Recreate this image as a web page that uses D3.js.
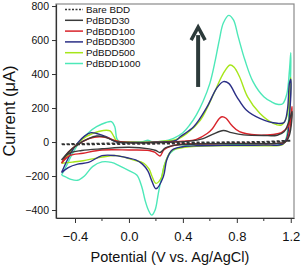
<!DOCTYPE html>
<html>
<head>
<meta charset="utf-8">
<script src="https://cdn.jsdelivr.net/npm/d3@7"></script>
<style>
  body { margin: 0; background: #fff; }
  svg { display: block; font-family: "Liberation Sans", Arial, sans-serif; }
</style>
</head>
<body>
<div id="chart"></div>
<script>
// cyclic voltammograms, [potential (V), current (uA)], forward scan then reverse scan
var bareBDD = [[-0.50, -12], [0.0, -6], [0.5, -2], [1.0, 2], [1.20, 9],
  [1.10, 0], [0.5, -8], [0.0, -12], [-0.50, -15]];

var pdBDD30 = [[-0.50, -106], [-0.45, -60], [-0.38, -15], [-0.30, 20], [-0.24, 35], [-0.18, 30],
  [-0.12, 10], [-0.08, 0], [0.2, -3], [0.45, 5], [0.55, 20], [0.62, 45], [0.70, 68], [0.76, 55],
  [0.85, 42], [1.0, 38], [1.1, 40], [1.15, 60], [1.19, 130], [1.21, 180],
  [1.19, 40], [1.16, 0], [1.1, -8], [0.8, -10], [0.5, -12], [0.35, -18], [0.27, -35], [0.23, -62],
  [0.20, -50], [0.15, -40], [0.0, -31], [-0.2, -40], [-0.35, -50], [-0.44, -65], [-0.50, -106]];

var pdBDD100 = [[-0.50, -125], [-0.45, -60], [-0.39, -20], [-0.29, 22], [-0.22, 31], [-0.16, 25],
  [-0.10, 8], [-0.05, 0], [0.2, -3], [0.4, 5], [0.50, 16], [0.58, 50], [0.62, 80], [0.67, 139],
  [0.69, 149], [0.72, 140], [0.76, 100], [0.82, 61], [0.95, 41], [1.07, 45], [1.13, 55], [1.18, 90], [1.21, 208],
  [1.19, 60], [1.16, 0], [1.1, -8], [0.8, -8], [0.6, -10], [0.4, -12], [0.31, -25], [0.26, -45],
  [0.23, -82], [0.19, -60], [0.15, -50], [0.0, -47], [-0.2, -47], [-0.34, -66], [-0.44, -80], [-0.50, -125]];

var pdBDD300 = [[-0.50, -180], [-0.46, -110], [-0.42, -50], [-0.38, -5], [-0.33, 35], [-0.28, 55],
  [-0.24, 50], [-0.17, 31], [-0.12, 10], [-0.09, 0], [0.0, -3], [0.2, 0], [0.35, 10], [0.38, 31],
  [0.48, 90], [0.58, 208], [0.65, 316], [0.70, 355], [0.74, 345], [0.80, 266], [0.87, 188],
  [0.97, 139], [1.10, 110], [1.15, 115], [1.175, 188], [1.19, 345], [1.20, 370],
  [1.19, 150], [1.17, 20], [1.14, -12], [1.0, -18], [0.7, -20], [0.5, -22], [0.40, -28], [0.32, -47],
  [0.28, -106], [0.255, -204], [0.20, -275], [0.17, -230], [0.14, -170], [0.10, -130], [0.05, -105],
  [0.0, -95], [-0.1, -80], [-0.2, -80], [-0.3, -120], [-0.38, -130], [-0.45, -150], [-0.50, -180]];

var pdBDD500 = [[-0.50, -125], [-0.45, -75], [-0.40, -25], [-0.34, 20], [-0.27, 50], [-0.19, 68],
  [-0.14, 65], [-0.11, 30], [-0.09, 5], [0.0, 0], [0.2, 2], [0.35, 15], [0.43, 51], [0.53, 129],
  [0.63, 286], [0.70, 404], [0.75, 453], [0.78, 440], [0.82, 384], [0.88, 266], [0.97, 169],
  [1.07, 110], [1.13, 100], [1.17, 149], [1.19, 286], [1.20, 380],
  [1.19, 150], [1.17, 20], [1.14, -15], [1.0, -22], [0.7, -22], [0.5, -25], [0.40, -33], [0.33, -45],
  [0.30, -66], [0.26, -145], [0.24, -210], [0.20, -243], [0.17, -200], [0.15, -160], [0.11, -125],
  [0.03, -105], [-0.09, -80], [-0.21, -90], [-0.34, -110], [-0.42, -118], [-0.50, -125]];

var pdBDD1000 = [[-0.50, -195], [-0.47, -150], [-0.42, -70], [-0.36, 5], [-0.30, 55], [-0.24, 90],
  [-0.17, 115], [-0.13, 120], [-0.105, 90], [-0.09, 20], [-0.07, 2], [0.0, 0], [0.10, 2], [0.14, 10],
  [0.17, 2], [0.25, 5], [0.33, 22], [0.40, 55], [0.45, 100], [0.50, 160], [0.55, 240], [0.60, 345],
  [0.64, 480], [0.67, 600], [0.70, 700], [0.74, 745], [0.775, 718], [0.81, 620], [0.86, 482],
  [0.92, 355], [1.00, 266], [1.06, 235], [1.10, 222], [1.14, 225], [1.17, 280], [1.19, 420], [1.20, 525],
  [1.195, 300], [1.18, 100], [1.16, 10], [1.12, -15], [1.0, -18], [0.8, -15], [0.58, -8], [0.45, -18],
  [0.355, -37], [0.305, -66], [0.267, -125], [0.243, -204], [0.218, -302], [0.194, -400], [0.169, -430],
  [0.144, -400], [0.119, -341], [0.095, -263], [0.058, -194], [0.0, -168], [-0.07, -140], [-0.13, -120],
  [-0.2, -117], [-0.27, -145], [-0.33, -200], [-0.38, -225], [-0.43, -220], [-0.47, -205], [-0.50, -195]];

var seriesNames = ["Bare BDD", "PdBDD30", "PdBDD100", "PdBDD300", "PdBDD500", "PdBDD1000"];
var seriesData = [bareBDD, pdBDD30, pdBDD100, pdBDD300, pdBDD500, pdBDD1000];
var seriesColors = ["#333333", "#3a3a3a", "#d8232a", "#2b2f86", "#a6e61a", "#4de8b8"];

var xTicks = [-0.4, 0.0, 0.4, 0.8, 1.2];
var xMinorTicks = [-0.2, 0.2, 0.6, 1.0];
var yTicks = [-400, -200, 0, 200, 400, 600, 800];

// arrow annotation [potential, current] bottom -> tip
var arrowFrom = [0.513, 324];
var arrowTo = [0.513, 676];

var svgWidth = 301;
var svgHeight = 270;
var margin = { top: 4, right: 7, bottom: 52, left: 56 };
var width = svgWidth - margin.left - margin.right;
var height = svgHeight - margin.top - margin.bottom;

var svg = d3.select("#chart").append("svg")
  .attr("width", svgWidth)
  .attr("height", svgHeight);

var g = svg.append("g")
  .attr("transform", `translate(${margin.left}, ${margin.top})`);

var x = d3.scaleLinear().domain([-0.541, 1.224]).range([0, width]);
var y = d3.scaleLinear().domain([-447, 812]).range([height, 0]);

// frame
g.append("rect")
  .attr("width", width)
  .attr("height", height)
  .attr("fill", "none")
  .attr("stroke", "#8a8a8a")
  .attr("stroke-width", 1.2);

var line = d3.line()
  .x(d => x(d[0]))
  .y(d => y(d[1]))
  .curve(d3.curveCatmullRom.alpha(0.5));

// draw big loops first so the small ones stay visible
var order = [5, 4, 3, 2, 1, 0];
order.forEach(function(i) {
  g.append("path")
    .datum(seriesData[i])
    .attr("fill", "none")
    .attr("stroke", seriesColors[i])
    .attr("stroke-width", i == 0 ? 1.6 : 1.4)
    .attr("stroke-dasharray", i == 0 ? "3,2" : null)
    .attr("d", line);
});

// axes
var xAxis = g.append("g")
  .attr("transform", `translate(0, ${height})`)
  .call(d3.axisBottom(x).tickValues(xTicks).tickSize(5).tickSizeOuter(0).tickFormat(d3.format(".1f")));
xAxis.selectAll("text").attr("font-size", 13).attr("dy", "1.15em").attr("fill", "#111");

g.append("g")
  .attr("transform", `translate(0, ${height})`)
  .selectAll("line")
  .data(xMinorTicks)
  .enter()
  .append("line")
  .attr("x1", d => x(d))
  .attr("x2", d => x(d))
  .attr("y1", 0)
  .attr("y2", 3)
  .attr("stroke", "#333");

var yAxis = g.append("g")
  .call(d3.axisLeft(y).tickValues(yTicks).tickSize(4).tickSizeOuter(0));
yAxis.selectAll("text").attr("font-size", 10.5).attr("fill", "#111");

svg.selectAll(".domain").attr("stroke", "#333").attr("stroke-width", 1.2);
svg.selectAll(".tick line").attr("stroke", "#333");

// axis titles
svg.append("text")
  .attr("x", margin.left + width / 2 - 5)
  .attr("y", 262)
  .attr("text-anchor", "middle")
  .attr("font-size", 14.5)
  .attr("fill", "#111")
  .text("Potential (V vs. Ag/AgCl)");

svg.append("text")
  .attr("transform", `translate(15, ${margin.top + height / 2}) rotate(-90)`)
  .attr("text-anchor", "middle")
  .attr("font-size", 16.5)
  .attr("fill", "#111")
  .text("Current (μA)");

// arrow
var ax = x(arrowFrom[0]);
var ay0 = y(arrowFrom[1]);
var ay1 = y(arrowTo[1]);
g.append("line")
  .attr("x1", ax).attr("x2", ax)
  .attr("y1", ay0).attr("y2", ay1 + 8)
  .attr("stroke", "#2c3a3a")
  .attr("stroke-width", 4);
g.append("path")
  .attr("d", `M${ax - 7},${ay1 + 13} L${ax},${ay1} L${ax + 7},${ay1 + 13}`)
  .attr("fill", "none")
  .attr("stroke", "#2c3a3a")
  .attr("stroke-width", 3.5)
  .attr("stroke-linejoin", "miter");

// legend
var legend = svg.append("g")
  .selectAll("g")
  .data(seriesNames)
  .enter()
  .append("g")
  .attr("transform", (d, i) => `translate(65, ${9.5 + i * 10.8})`);

legend.append("line")
  .attr("x1", 0).attr("x2", 18)
  .attr("stroke", (d, i) => seriesColors[i])
  .attr("stroke-width", 1.5)
  .attr("stroke-dasharray", (d, i) => i == 0 ? "2,1.5" : null);

legend.append("text")
  .attr("x", 21)
  .attr("dy", "0.35em")
  .attr("font-size", 9.8)
  .attr("fill", "#111")
  .text(d => d);
</script>
</body>
</html>
